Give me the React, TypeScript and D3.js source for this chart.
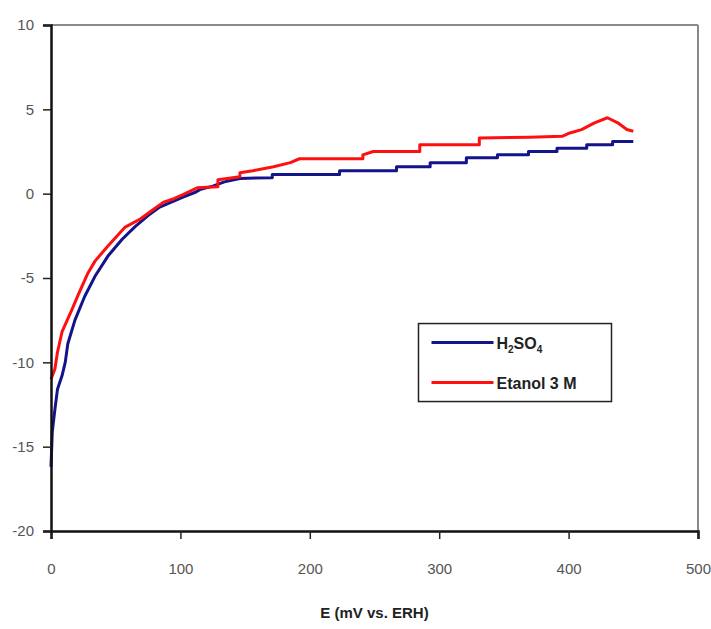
import React from 'react';
import * as d3 from 'd3';

// E (mV vs. ERH) / current (repeated x = a step in the record)
const h2so4X = [0, 1, 3, 5, 8.5, 11, 13, 18.5, 26, 34, 44, 55, 65, 75, 84, 93, 102, 112, 115, 125, 134, 146, 171, 171, 223, 223, 267, 267, 293, 293, 321, 321, 345, 345, 369, 369, 391, 391, 414, 414, 434, 434, 450];
const h2so4Y = [-16.2, -14.1, -12.8, -11.6, -10.8, -10.0, -8.9, -7.5, -6.1, -4.9, -3.7, -2.7, -1.95, -1.3, -0.8, -0.5, -0.2, 0.1, 0.24, 0.45, 0.7, 0.9, 0.95, 1.13, 1.13, 1.36, 1.36, 1.6, 1.6, 1.84, 1.84, 2.13, 2.13, 2.3, 2.3, 2.5, 2.5, 2.7, 2.7, 2.9, 2.9, 3.1, 3.1];

const etanolX = [0, 3, 5, 8.5, 16, 21, 28.6, 34, 44, 57, 69, 78, 87, 95, 102, 113, 129, 129, 146, 146, 156, 172, 185, 192, 241, 241, 249, 285, 285, 331, 331, 370, 395, 401, 410, 420, 430, 438, 445, 450];
const etanolY = [-11.0, -10.4, -9.4, -8.2, -6.9, -6.0, -4.7, -4.0, -3.1, -2.0, -1.5, -1.0, -0.5, -0.3, -0.06, 0.35, 0.41, 0.83, 1.0, 1.24, 1.36, 1.6, 1.84, 2.07, 2.07, 2.3, 2.5, 2.5, 2.9, 2.9, 3.3, 3.35, 3.4, 3.6, 3.8, 4.2, 4.5, 4.2, 3.8, 3.7];

const xTicks = [0, 100, 200, 300, 400, 500];
const yTicks = [-20, -15, -10, -5, 0, 5, 10];

const App = () => {
    const svgRef = React.useRef(null);

    const margin = {top: 25, right: 13, bottom: 98, left: 51};
    const W = 711, H = 629;
    const width = W - margin.left - margin.right;
    const height = H - margin.top - margin.bottom;

    React.useEffect(() => {
        const svgEl = d3.select(svgRef.current);
        svgEl.selectAll("*").remove();

        const svg = svgEl.append("g")
            .attr("transform", `translate(${margin.left},${margin.top})`);

        const tickFont = "'Liberation Sans Narrow', 'Arial Narrow', 'Liberation Sans', sans-serif";

        var x = d3.scaleLinear().domain([0, 500]).range([0, width]);
        var y = d3.scaleLinear().domain([-20, 10]).range([height, 0]);

        // gray frame top / right
        svg.append("line")
            .attr("x1", 0).attr("x2", width).attr("y1", 0).attr("y2", 0)
            .attr("stroke", "#8a8a8a").attr("stroke-width", 2);
        svg.append("line")
            .attr("x1", width).attr("x2", width).attr("y1", 0).attr("y2", height)
            .attr("stroke", "#8a8a8a").attr("stroke-width", 2);

        // curves
        const line = d3.line<[number, number]>()
            .x(d => x(d[0]))
            .y(d => y(d[1]));

        const series = [
            {xs: h2so4X, ys: h2so4Y, color: "#14148a"},
            {xs: etanolX, ys: etanolY, color: "#ff1010"},
        ];
        series.forEach(s => {
            const pts = s.xs.map((v, i) => [v, s.ys[i]] as [number, number]);
            svg.append("path")
                .attr("d", line(pts))
                .attr("fill", "none")
                .attr("stroke", s.color)
                .attr("stroke-width", 3)
                .attr("stroke-linejoin", "round");
        });

        // axes
        const xAxis = svg.append('g')
            .attr('transform', `translate(0,${height})`)
            .call(d3.axisBottom(x).tickValues(xTicks).tickSize(8).tickPadding(24).tickFormat(d => String(d)));
        const yAxis = svg.append('g')
            .call(d3.axisLeft(y).tickValues(yTicks).tickSize(8).tickPadding(9).tickFormat(d => String(d)));

        [xAxis, yAxis].forEach(a => {
            a.select(".domain").attr("stroke", "#111").attr("stroke-width", 2.5);
            a.selectAll(".tick line").attr("stroke", "#222").attr("stroke-width", 1.5);
            a.selectAll(".tick text")
                .attr("fill", "#555")
                .style("font-family", tickFont)
                .style("font-size", "15px");
        });

        svg.append("text")
            .attr("x", width / 2)
            .attr("y", height + 87)
            .style("text-anchor", "middle")
            .style("font-family", "'Liberation Sans', Arial, sans-serif")
            .style("font-weight", "bold")
            .style("font-size", "15px")
            .attr("fill", "#222")
            .text("E (mV vs. ERH)");

        // legend
        const lg = svg.append("g").attr("transform", `translate(${x(284)},${y(-7.7)})`);
        lg.append("rect")
            .attr("width", 193).attr("height", 78)
            .attr("fill", "white").attr("stroke", "#222").attr("stroke-width", 1.5);
        const items = [
            {color: "#14148a", label: "H2SO4"},
            {color: "#ff1010", label: "Etanol 3 M"},
        ];
        items.forEach((it, i) => {
            const yy = 19 + i * 40;
            lg.append("line")
                .attr("x1", 13).attr("x2", 75).attr("y1", yy).attr("y2", yy)
                .attr("stroke", it.color).attr("stroke-width", 3);
            const t = lg.append("text")
                .attr("x", 78).attr("y", yy + 6)
                .style("font-family", "'Liberation Sans', Arial, sans-serif")
                .style("font-weight", "bold")
                .style("font-size", "16px")
                .attr("fill", "#222");
            if (it.label === "H2SO4") {
                t.append("tspan").text("H");
                t.append("tspan").attr("dy", 4).style("font-size", "10px").text("2");
                t.append("tspan").attr("dy", -4).text("SO");
                t.append("tspan").attr("dy", 4).style("font-size", "10px").text("4");
            } else {
                t.text(it.label);
            }
        });

    // eslint-disable-next-line react-hooks/exhaustive-deps
    }, []);

    return <svg ref={svgRef} width={W} height={H}
        style={{position: "absolute", left: 0, top: 0, background: "white"}} />;
};

export default App;
